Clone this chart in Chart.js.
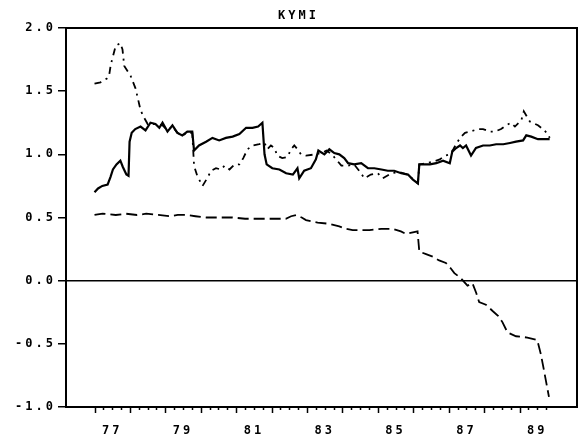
<!DOCTYPE html>
<html><head><meta charset="utf-8">
<script src="https://cdn.jsdelivr.net/npm/chart.js@4/dist/chart.umd.min.js"></script>
<style>html,body{margin:0;padding:0;background:#fff}canvas{display:block}</style>
</head><body>
<canvas id="c" width="584" height="441"></canvas>
<script>
const titleText = 'KYMI';
const labelYears = [1977, 1979, 1981, 1983, 1985, 1987, 1989];
const xTickLabels = ['77', '79', '81', '83', '85', '87', '89'];
const firstTickYear = 1977;
const lastTickYear = 1989.75;

const solidYears = [1977.00,1977.10,1977.22,1977.37,1977.45,1977.52,1977.62,1977.73,1977.80,1977.90,1977.96,1977.99,1978.05,1978.15,1978.30,1978.44,1978.58,1978.72,1978.83,1978.92,1979.06,1979.20,1979.34,1979.48,1979.62,1979.76,1979.81,1979.95,1980.15,1980.33,1980.52,1980.71,1980.90,1981.09,1981.28,1981.46,1981.62,1981.74,1981.80,1981.86,1982.02,1982.22,1982.41,1982.60,1982.73,1982.78,1982.92,1983.11,1983.25,1983.32,1983.49,1983.63,1983.77,1983.91,1984.05,1984.16,1984.33,1984.53,1984.72,1984.90,1985.10,1985.28,1985.46,1985.66,1985.85,1985.99,1986.13,1986.17,1986.31,1986.47,1986.65,1986.84,1987.03,1987.10,1987.21,1987.32,1987.40,1987.49,1987.63,1987.77,1987.97,1988.16,1988.34,1988.54,1988.73,1988.90,1989.10,1989.19,1989.33,1989.52,1989.71,1989.85];
const solidValues = [0.70,0.73,0.75,0.76,0.82,0.88,0.92,0.95,0.90,0.84,0.83,1.10,1.17,1.20,1.22,1.19,1.25,1.24,1.21,1.25,1.18,1.23,1.17,1.15,1.18,1.18,1.03,1.07,1.10,1.13,1.11,1.13,1.14,1.16,1.21,1.21,1.22,1.25,1.00,0.92,0.89,0.88,0.85,0.84,0.89,0.81,0.87,0.89,0.96,1.03,1.00,1.04,1.01,1.00,0.97,0.93,0.92,0.93,0.89,0.89,0.88,0.87,0.87,0.85,0.84,0.80,0.77,0.92,0.92,0.92,0.93,0.95,0.93,1.02,1.05,1.07,1.05,1.07,0.99,1.05,1.07,1.07,1.08,1.08,1.09,1.10,1.11,1.15,1.14,1.12,1.12,1.12];

const dashDotYears = [1977.00,1977.17,1977.35,1977.41,1977.46,1977.60,1977.73,1977.79,1977.84,1978.02,1978.16,1978.30,1978.38,1978.50,1978.72,1978.92,1979.06,1979.20,1979.34,1979.48,1979.62,1979.76,1979.81,1979.90,1980.05,1980.20,1980.29,1980.43,1980.57,1980.67,1980.81,1980.95,1981.09,1981.20,1981.32,1981.46,1981.65,1981.80,1981.88,1981.98,1982.08,1982.16,1982.30,1982.45,1982.55,1982.64,1982.73,1982.83,1982.97,1983.25,1983.40,1983.55,1983.70,1983.85,1983.97,1984.15,1984.33,1984.50,1984.62,1984.80,1985.00,1985.14,1985.38,1985.60,1985.85,1986.00,1986.13,1986.17,1986.35,1986.55,1986.75,1986.89,1987.03,1987.13,1987.21,1987.32,1987.46,1987.60,1987.83,1987.97,1988.16,1988.30,1988.48,1988.62,1988.76,1988.87,1989.05,1989.12,1989.29,1989.52,1989.66,1989.80,1989.85];
const dashDotValues = [1.56,1.57,1.60,1.62,1.71,1.86,1.88,1.83,1.70,1.62,1.52,1.35,1.30,1.24,1.24,1.23,1.19,1.22,1.17,1.15,1.17,1.17,0.91,0.83,0.75,0.82,0.87,0.89,0.88,0.91,0.88,0.92,0.92,0.97,1.04,1.07,1.08,1.09,1.04,1.07,1.05,0.99,0.97,0.98,1.04,1.07,1.04,1.00,0.99,1.00,1.01,1.03,1.00,0.95,0.91,0.91,0.92,0.86,0.81,0.84,0.85,0.81,0.85,0.86,0.84,0.80,0.77,0.92,0.93,0.94,0.96,0.99,1.00,1.04,1.08,1.13,1.17,1.18,1.20,1.20,1.18,1.18,1.20,1.23,1.25,1.22,1.27,1.34,1.26,1.23,1.20,1.16,1.13];

const dashedYears = [1977.00,1977.23,1977.60,1977.89,1978.20,1978.46,1978.80,1979.12,1979.35,1979.59,1979.85,1980.15,1980.50,1980.90,1981.25,1981.65,1982.00,1982.40,1982.55,1982.69,1982.85,1982.97,1983.30,1983.63,1983.91,1984.10,1984.29,1984.76,1985.10,1985.42,1985.65,1985.79,1986.12,1986.17,1986.36,1986.55,1986.73,1986.92,1987.05,1987.16,1987.34,1987.53,1987.67,1987.78,1987.86,1988.05,1988.24,1988.40,1988.52,1988.66,1988.90,1989.22,1989.50,1989.60,1989.69,1989.83];
const dashedValues = [0.52,0.53,0.52,0.53,0.52,0.53,0.52,0.51,0.52,0.52,0.51,0.50,0.50,0.50,0.49,0.49,0.49,0.49,0.51,0.52,0.50,0.48,0.46,0.45,0.43,0.41,0.40,0.40,0.41,0.41,0.39,0.37,0.39,0.23,0.21,0.19,0.16,0.14,0.10,0.06,0.02,-0.04,-0.02,-0.10,-0.17,-0.19,-0.24,-0.28,-0.33,-0.41,-0.44,-0.45,-0.47,-0.58,-0.71,-0.92];

const pairs = (xs, ys) => xs.map((x, i) => ({ x: x, y: ys[i] }));
const FONT = { family: 'DejaVu Sans Mono', size: 12, weight: 'bold' };

const spacingPlugin = {
  id: 'spacing',
  beforeUpdate(c) { c.ctx.letterSpacing = '3px'; },
  beforeLayout(c) { c.ctx.letterSpacing = '3px'; },
  afterLayout(c) { if (c.titleBlock) { c.titleBlock.left += 20; } },
  beforeDraw(c) { c.ctx.letterSpacing = '3px'; }
};

const framePlugin = {
  id: 'frame',
  afterDraw(chart) {
    const { ctx, chartArea: a } = chart;
    const xs = chart.scales.x;
    ctx.save();
    ctx.strokeStyle = '#000';
    ctx.lineWidth = 2;
    ctx.strokeRect(a.left, a.top, a.right - a.left, a.bottom - a.top);
    ctx.lineWidth = 1.5;
    const n = Math.round((lastTickYear - firstTickYear) * 4);
    for (let k = 0; k <= n; k++) {
      const q = firstTickYear + k / 4;
      const px = Math.round(xs.getPixelForValue(q)) + 0.5;
      const major = k % 4 === 0;
      ctx.beginPath();
      ctx.moveTo(px, a.bottom);
      ctx.lineTo(px, a.bottom + (major ? 6 : 3));
      ctx.stroke();
    }
    ctx.restore();
  }
};

Chart.defaults.color = '#000';

new Chart(document.getElementById('c').getContext('2d'), {
  type: 'line',
  data: {
    datasets: [
      { data: pairs(dashedYears, dashedValues), borderColor: '#000', borderWidth: 1.8, borderDash: [11, 5], pointRadius: 0, fill: false, tension: 0 },
      { data: pairs(dashDotYears, dashDotValues), borderColor: '#000', borderWidth: 1.8, borderDash: [7, 5, 2, 5], pointRadius: 0, fill: false, tension: 0 },
      { data: pairs(solidYears, solidValues), borderColor: '#000', borderWidth: 2.2, pointRadius: 0, fill: false, tension: 0 }
    ]
  },
  options: {
    responsive: false,
    animation: false,
    devicePixelRatio: 1,
    layout: { padding: { left: 0, right: 7, top: 0, bottom: 0 } },
    plugins: {
      legend: { display: false },
      tooltip: { enabled: false },
      title: { display: true, text: titleText, color: '#000', font: FONT, padding: { top: 8.5, bottom: 5.1 } }
    },
    scales: {
      x: {
        type: 'linear', position: 'bottom', min: 1976.195, max: 1990.622,
        afterBuildTicks(s) { s.ticks = labelYears.map(y => ({ value: y + 0.5 })); },
        afterFit(s) { s.height = 34; },
        ticks: {
          autoSkip: false, maxRotation: 0, minRotation: 0, padding: 9, color: '#000', font: FONT,
          callback(v) { const i = labelYears.indexOf(Math.round(v - 0.5)); return i >= 0 ? xTickLabels[i] : ''; }
        },
        grid: { drawOnChartArea: false, drawTicks: true, tickLength: 8, tickColor: 'rgba(0,0,0,0)', color: 'rgba(0,0,0,0)' },
        border: { display: false }
      },
      y: {
        min: -1, max: 2,
        afterFit(s) { s.width = 66; },
        ticks: { stepSize: 0.5, padding: 2, color: '#000', font: FONT, callback: v => v.toFixed(1) },
        grid: {
          drawOnChartArea: true,
          color: ctx => (ctx.tick && ctx.tick.value === 0 ? '#000' : 'rgba(0,0,0,0)'),
          lineWidth: 1.5, tickColor: '#000', tickLength: 8, tickWidth: 1.5
        },
        border: { display: false }
      }
    }
  },
  plugins: [spacingPlugin, framePlugin]
});
</script>
</body></html>
